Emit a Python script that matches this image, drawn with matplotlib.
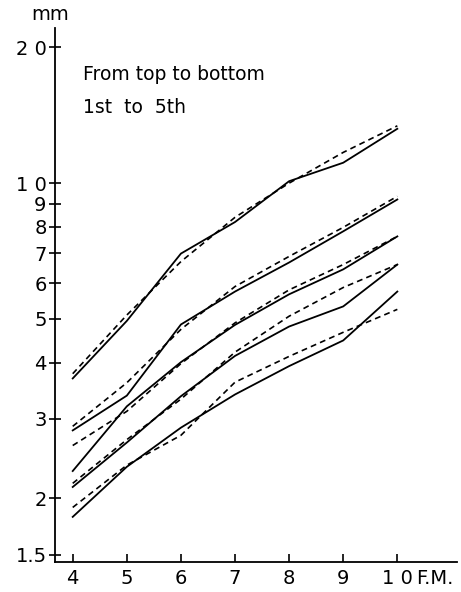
import matplotlib
matplotlib.use('Agg')
import matplotlib.pyplot as plt
from matplotlib.ticker import FixedLocator, FixedFormatter, NullLocator

# Stage (F.M.) on the x axis
stages = [4, 5, 6, 7, 8, 9, 10]

# Observed sizes (solid lines), 1st to 5th from top to bottom, in mm
observed = [
    [3.69, 4.95, 6.98, 8.2, 10.1, 11.1, 13.2],
    [2.83, 3.38, 4.86, 5.75, 6.67, 7.82, 9.2],
    [2.30, 3.20, 4.01, 4.85, 5.67, 6.44, 7.62],
    [2.12, 2.66, 3.37, 4.14, 4.81, 5.33, 6.6],
    [1.82, 2.35, 2.87, 3.40, 3.93, 4.48, 5.75],
]

# Fitted sizes (dashed lines)
fitted = [
    [3.78, 5.10, 6.70, 8.40, 10.0, 11.7, 13.4],
    [2.89, 3.61, 4.74, 5.90, 6.88, 7.98, 9.35],
    [2.62, 3.12, 3.98, 4.90, 5.80, 6.60, 7.62],
    [2.16, 2.70, 3.32, 4.22, 5.07, 5.87, 6.6],
    [1.91, 2.37, 2.76, 3.62, 4.13, 4.67, 5.25],
]

ytick_vals = [1.5, 2, 3, 4, 5, 6, 7, 8, 9, 10, 20]
ytick_labels = ['1.5', '2', '3', '4', '5', '6', '7', '8', '9', '1 0', '2 0']
xtick_labels = ['4', '5', '6', '7', '8', '9', '1 0']

fig = plt.figure(figsize=(4.61, 5.92), dpi=100)
ax = fig.add_axes([0.119, 0.051, 0.872, 0.902])

for obs, fit in zip(observed, fitted):
    ax.plot(stages, obs, color='black', linewidth=1.3, solid_joinstyle='miter')
    ax.plot(stages, fit, color='black', linewidth=1.2, linestyle=(0, (3.5, 2.5)))

ax.set_yscale('log')
ax.set_ylim(1.447, 22.1)
ax.set_xlim(3.67, 11.1)

ax.yaxis.set_major_locator(FixedLocator(ytick_vals))
ax.yaxis.set_major_formatter(FixedFormatter(ytick_labels))
ax.yaxis.set_minor_locator(NullLocator())
ax.set_xticks(stages)
ax.set_xticklabels(xtick_labels)

ax.spines['top'].set_visible(False)
ax.spines['right'].set_visible(False)
ax.spines['left'].set_linewidth(1.3)
ax.spines['bottom'].set_linewidth(1.3)

ax.tick_params(axis='x', direction='in', length=6, width=1.2, labelsize=14, pad=5)
ax.tick_params(axis='y', direction='inout', length=8, width=1.2, labelsize=14, pad=2)

# the "F.M." unit sits right after the last tick label, on the same baseline
ax.annotate('F.M.', xy=(10.34, 1.447), xytext=(0, -5), textcoords='offset points',
            fontsize=14, ha='left', va='top', annotation_clip=False)
ax.text(4.19, 17.4, 'From top to bottom', fontsize=13.5, ha='left', va='center')
ax.text(4.19, 14.7, '1st  to  5th', fontsize=13.5, ha='left', va='center')
fig.text(0.109, 0.975, 'mm', fontsize=14, ha='center', va='center')

fig.savefig('out.png', dpi=100)
